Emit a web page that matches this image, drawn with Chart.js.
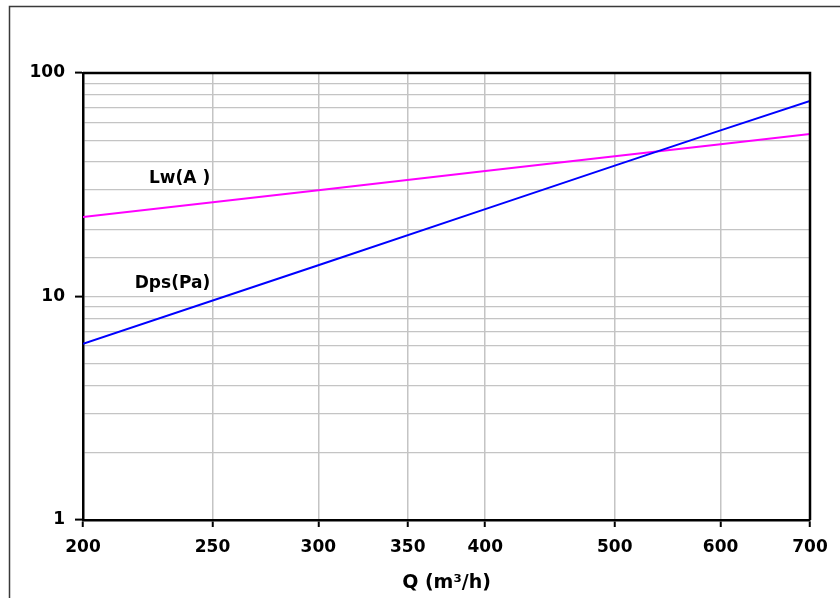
<!DOCTYPE html>
<html>
<head>
<meta charset="utf-8">
<script src="https://cdn.jsdelivr.net/npm/chart.js@4"></script>
<style>
  html, body { margin: 0; padding: 0; background: #fff; }
  #wrap { width: 840px; height: 598px; position: relative; }
</style>
</head>
<body>
<div id="wrap"><canvas id="c" width="840" height="598"></canvas></div>
<script>
// ---- data ----
const flowQ = [200, 300, 400, 500, 600, 700];          // Q (m³/h)
const dpsPa = [6.15, 13.8, 24.6, 38.5, 55.4, 75];       // Dps(Pa)
const lwA   = [22.7, 29.9, 36.4, 42.4, 48.0, 53.3];     // Lw(A)
const xTickValues = [200, 250, 300, 350, 400, 500, 600, 700];
const yLabelValues = [1, 10, 100];
const seriesNames = ['Dps(Pa)', 'Lw(A )'];
const axisTitleX = 'Q (m³/h)';
// label anchors (data coordinates)
const labelAnchors = [
  { text: 'Lw(A )', x: 249, y: 33.7 },
  { text: 'Dps(Pa)', x: 249, y: 11.4 }
];

const FONT = '"DejaVu Sans", "Liberation Sans", Arial, sans-serif';
const isMajorLog = v => Math.abs(Math.log10(v) - Math.round(Math.log10(v))) < 1e-9;

const framePlugin = {
  id: 'frames',
  beforeDraw(chart) {
    const ctx = chart.ctx;
    ctx.save();
    ctx.fillStyle = '#fff';
    ctx.fillRect(0, 0, chart.width, chart.height);
    ctx.strokeStyle = '#3a3a3a';
    ctx.lineWidth = 1.5;
    ctx.beginPath();
    ctx.moveTo(9.5, chart.height + 2);
    ctx.lineTo(9.5, 6.5);
    ctx.lineTo(chart.width + 2, 6.5);
    ctx.stroke();
    ctx.restore();
  },
  afterDraw(chart) {
    const ctx = chart.ctx;
    const a = chart.chartArea;
    ctx.save();
    ctx.strokeStyle = '#000';
    ctx.lineWidth = 2.5;
    ctx.beginPath();
    ctx.moveTo(a.left, a.top);
    ctx.lineTo(a.right, a.top);
    ctx.lineTo(a.right, a.bottom);
    ctx.stroke();
    // series labels
    ctx.fillStyle = '#000';
    ctx.font = 'bold 17px ' + FONT;
    ctx.textAlign = 'right';
    ctx.textBaseline = 'middle';
    const xs = chart.scales.x, ys = chart.scales.y;
    labelAnchors.forEach(l => {
      ctx.fillText(l.text, xs.getPixelForValue(l.x), ys.getPixelForValue(l.y));
    });
    ctx.restore();
  }
};

new Chart(document.getElementById('c'), {
  type: 'line',
  data: {
    datasets: [
      {
        label: seriesNames[0],
        data: flowQ.map((q, i) => ({ x: q, y: dpsPa[i] })),
        borderColor: '#0000ff',
        borderWidth: 2,
        pointRadius: 0,
        tension: 0,
        fill: false
      },
      {
        label: seriesNames[1],
        data: flowQ.map((q, i) => ({ x: q, y: lwA[i] })),
        borderColor: '#ff00ff',
        borderWidth: 2,
        pointRadius: 0,
        tension: 0,
        fill: false
      }
    ]
  },
  options: {
    responsive: false,
    animation: false,
    devicePixelRatio: 1,
    layout: { padding: { top: 73, right: 30, left: 0, bottom: 0 } },
    plugins: {
      legend: { display: false },
      tooltip: { enabled: false }
    },
    scales: {
      x: {
        type: 'logarithmic',
        min: 200,
        max: 700,
        afterBuildTicks: s => { s.ticks = xTickValues.map(v => ({ value: v })); },
        afterFit: s => { s.height = 78; },
        ticks: {
          autoSkip: false,
          maxRotation: 0,
          padding: 10,
          color: '#000',
          font: { family: FONT, size: 17, weight: 'bold' },
          callback: v => String(v)
        },
        grid: {
          color: '#c4c4c4',
          lineWidth: 1.5,
          tickColor: '#000',
          tickLength: 7,
          tickWidth: 2
        },
        border: { color: '#000', width: 2.5 },
        title: {
          display: true,
          text: axisTitleX,
          color: '#000',
          font: { family: FONT, size: 19, weight: 'bold' },
          padding: { top: 4, bottom: 4 }
        }
      },
      y: {
        type: 'logarithmic',
        min: 1,
        max: 100,
        afterFit: s => { s.width = 83; },
        ticks: {
          autoSkip: false,
          padding: 10,
          color: '#000',
          font: { family: FONT, size: 17, weight: 'bold' },
          callback: v => yLabelValues.includes(v) ? String(v) : ''
        },
        grid: {
          color: '#c4c4c4',
          lineWidth: 1.2,
          tickColor: ctx => (ctx.tick && isMajorLog(ctx.tick.value)) ? '#000' : 'rgba(0,0,0,0)',
          tickLength: 8,
          tickWidth: 2
        },
        border: { color: '#000', width: 2.5 }
      }
    }
  },
  plugins: [framePlugin]
});
</script>
</body>
</html>
